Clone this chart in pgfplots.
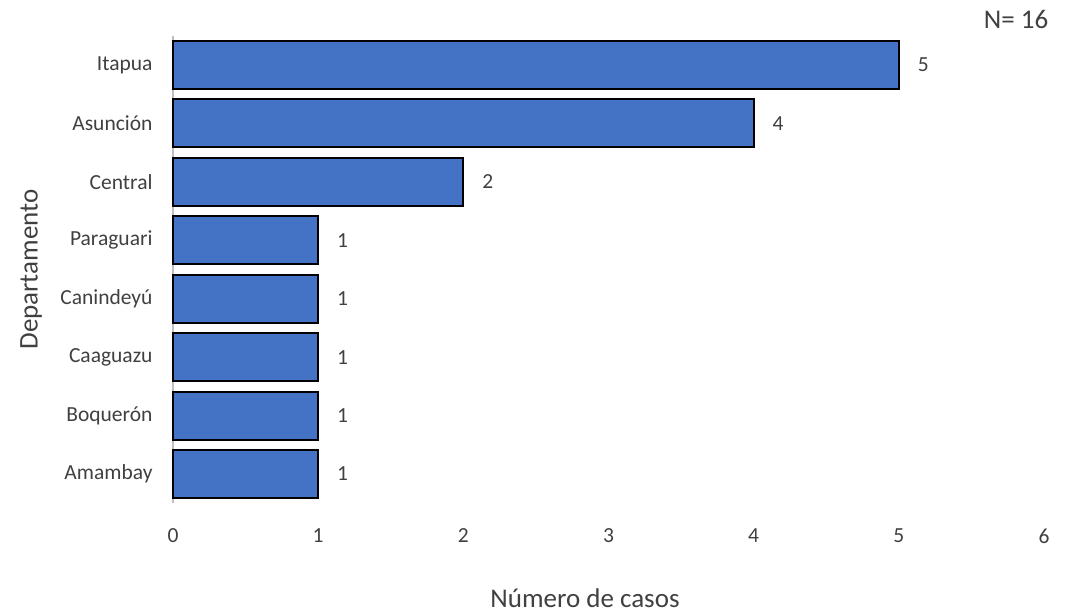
\documentclass[border=0pt]{standalone}
\usepackage{fontspec}
\setmainfont{Carlito}
\usepackage{pgfplots}
\pgfplotsset{compat=1.18}
\definecolor{barblue}{HTML}{4472C4}
\definecolor{axgray}{HTML}{BFBFBF}
\definecolor{txt}{HTML}{404040}
\begin{document}
\begin{tikzpicture}[x=1pt,y=1pt]
\useasboundingbox (0,0) rectangle (1078,612);
\begin{axis}[
    at={(173pt,108.8pt)}, anchor=south west,
    scale only axis,
    width=871pt, height=467.4pt,
    xbar, bar width=48pt,
    xmin=0, xmax=6,
    ymin=-0.5, ymax=7.5,
    xtick={0,1,2,3,4,5,6},
    ytick={0,1,2,3,4,5,6,7},
    yticklabels={Amambay,Boquerón,Caaguazu,Canindeyú,Paraguari,Central,Asunción,Itapua},
    axis x line*=bottom, axis y line*=left,
    x axis line style={draw=none},
    y axis line style={draw=axgray, line width=1.5pt},
    major tick length=0pt,
    /pgf/number format/assume math mode=true,
    ticklabel style={font=\fontsize{21.5}{24}\selectfont, text=txt},
    xticklabel style={yshift=-22pt},
    yticklabel style={xshift=-17pt},
    nodes near coords,
    every node near coord/.append style={font=\fontsize{21.5}{24}\selectfont, text=txt, anchor=west, inner sep=0pt, xshift=18pt},
    xlabel={Número de casos},
    ylabel={Departamento},
    label style={font=\fontsize{27}{30}\selectfont, text=txt},
    xlabel style={at={(rel axis cs:0.473,-0.203)}, anchor=center},
    ylabel style={at={(rel axis cs:-0.163,0.5)}, anchor=center, rotate=0},
    clip=false,
]
\addplot[fill=barblue, draw=black, line width=2pt] coordinates {
    (1,0) (1,1) (1,2) (1,3) (1,4) (2,5) (4,6) (5,7)
};
\node[font=\fontsize{27}{30}\selectfont, text=txt, anchor=center] at (rel axis cs:0.968,1.034) {N= 16};
\end{axis}
\end{tikzpicture}
\end{document}
